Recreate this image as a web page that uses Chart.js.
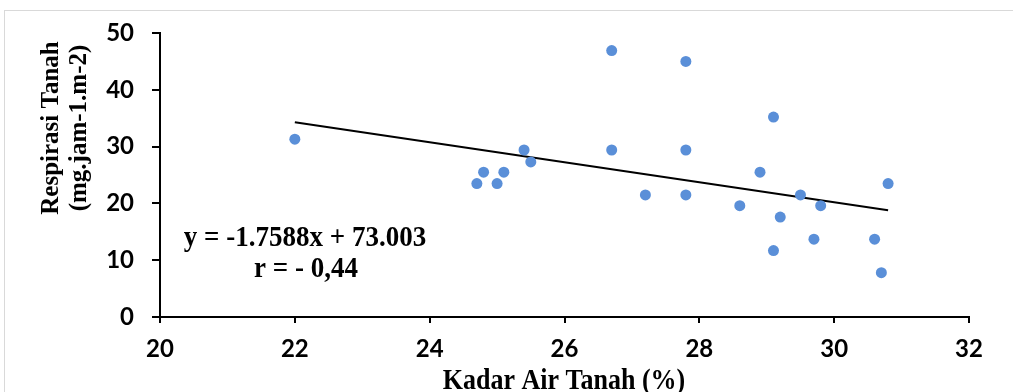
<!DOCTYPE html>
<html>
<head>
<meta charset="utf-8">
<script src="https://cdn.jsdelivr.net/npm/chart.js@4/dist/chart.umd.min.js"></script>
<style>
  html, body { margin: 0; padding: 0; background: #ffffff; }
  #wrap { position: relative; width: 1013px; height: 392px; overflow: hidden; }
  #frame { position: absolute; left: 4px; top: 10px; width: 1100px; height: 500px; border: 1px solid #d9d9d9; box-sizing: border-box; pointer-events: none; }
  canvas { position: absolute; left: 0; top: 0; }
</style>
</head>
<body>
<div id="wrap">
  <canvas id="c" width="1013" height="392"></canvas>
  <div id="frame"></div>
</div>
<script>
// Data
const kadarAir = [22.0, 24.7, 24.8, 25.0, 25.1, 25.4, 25.5, 26.7, 26.7, 27.2, 27.8, 27.8, 27.8, 28.6, 28.9, 29.1, 29.1, 29.2, 29.5, 29.7, 29.8, 30.6, 30.7, 30.8];
const respirasi = [31.3, 23.5, 25.5, 23.5, 25.5, 29.4, 27.3, 46.9, 29.4, 21.5, 45.0, 29.4, 21.5, 19.6, 25.5, 35.2, 11.7, 17.6, 21.5, 13.7, 19.6, 13.7, 7.8, 23.5];
const trendX = [22.0, 30.8];
const trendY = [34.3, 18.8];
const xTicks = [20, 22, 24, 26, 28, 30, 32];
const yTicks = [0, 10, 20, 30, 40, 50];
const xTitle = 'Kadar Air Tanah (%)';
const yTitleLines = ['Respirasi Tanah', '(mg.jam-1.m-2)'];
const equationLines = ['y = -1.7588x + 73.003', 'r = - 0,44'];

const points = kadarAir.map((x, i) => ({ x: x, y: respirasi[i] }));
const trend = trendX.map((x, i) => ({ x: x, y: trendY[i] }));

function stretchedText(ctx, text, x, y, sy) {
  ctx.save();
  ctx.translate(x, y);
  ctx.scale(1, sy);
  ctx.fillText(text, 0, 0);
  ctx.restore();
}

const textPlugin = {
  id: 'texts',
  afterDraw(chart) {
    const ctx = chart.ctx;
    ctx.save();
    ctx.fillStyle = '#000000';
    ctx.textAlign = 'center';
    ctx.textBaseline = 'middle';
    // equation
    ctx.font = 'bold 27px "Liberation Serif", "Times New Roman", serif';
    stretchedText(ctx, equationLines[0], 305, 238, 1.1);
    stretchedText(ctx, equationLines[1], 306, 269, 1.1);
    // x title
    ctx.font = 'bold 26px "Liberation Serif", "Times New Roman", serif';
    ctx.textBaseline = 'alphabetic';
    stretchedText(ctx, xTitle, 564, 389, 1.15);
    // y title
    ctx.textBaseline = 'middle';
    ctx.font = 'bold 25px "Liberation Serif", "Times New Roman", serif';
    ctx.translate(52, 128);
    ctx.rotate(-Math.PI / 2);
    ctx.fillText(yTitleLines[0], 0, 0);
    ctx.fillText(yTitleLines[1], 0, 28);
    ctx.restore();
  }
};

new Chart(document.getElementById('c'), {
  type: 'scatter',
  data: {
    datasets: [
      {
        label: 'Respirasi',
        data: points,
        backgroundColor: '#5a8fd8',
        borderColor: '#5a8fd8',
        pointRadius: 5.5,
        pointHoverRadius: 5.5,
        borderWidth: 0
      },
      {
        label: 'Trend',
        type: 'line',
        data: trend,
        borderColor: '#000000',
        borderWidth: 2,
        pointRadius: 0,
        fill: false
      }
    ]
  },
  options: {
    responsive: false,
    animation: false,
    events: [],
    layout: { padding: { left: 0, right: 44, top: 33, bottom: 0 } },
    plugins: { legend: { display: false }, tooltip: { enabled: false } },
    scales: {
      x: {
        type: 'linear',
        min: xTicks[0],
        max: xTicks[xTicks.length - 1],
        afterBuildTicks(axis) { axis.ticks = xTicks.map(v => ({ value: v })); },
        afterFit(axis) { axis.height = 75; },
        border: { display: true, color: '#000000', width: 2 },
        grid: { display: true, drawOnChartArea: false, drawTicks: true, tickLength: 6, color: '#000000', lineWidth: 2 },
        ticks: { color: '#000000', padding: 12, font: { family: 'Lato', weight: 'bold', size: 24 } }
      },
      y: {
        type: 'linear',
        min: yTicks[0],
        max: yTicks[yTicks.length - 1],
        afterBuildTicks(axis) { axis.ticks = yTicks.map(v => ({ value: v })); },
        afterFit(axis) { axis.width = 160; axis.paddingTop = 12; axis.paddingBottom = 12; },
        border: { display: true, color: '#000000', width: 2 },
        grid: { display: true, drawOnChartArea: false, drawTicks: true, tickLength: 8, color: '#000000', lineWidth: 2 },
        ticks: { color: '#000000', padding: 18, font: { family: 'Lato', weight: 'bold', size: 24 } }
      }
    }
  },
  plugins: [textPlugin]
});
</script>
</body>
</html>
